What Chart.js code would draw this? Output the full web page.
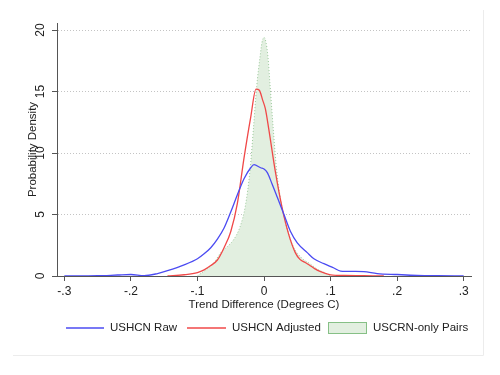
<!DOCTYPE html>
<html>
<head>
<meta charset="utf-8">
<script src="https://cdn.jsdelivr.net/npm/chart.js@4.4.1/dist/chart.umd.min.js"></script>
<style>
  html, body { margin: 0; padding: 0; background: #fff; }
  #wrap { width: 500px; height: 375px; }
</style>
</head>
<body>
<div id="wrap"><canvas id="densityChart" width="500" height="375"></canvas></div>
<script>
// kernel density estimates
const rawX = [-0.30, -0.25, -0.22, -0.20, -0.18, -0.16, -0.145, -0.12, -0.10, -0.09, -0.08, -0.07, -0.06, -0.05, -0.04, -0.03, -0.02, -0.015, -0.005, 0.0, 0.005, 0.012, 0.02, 0.03, 0.04, 0.05, 0.065, 0.075, 0.09, 0.105, 0.115, 0.135, 0.15, 0.17, 0.20, 0.23, 0.26, 0.30];
const rawY = [0, 0.02, 0.08, 0.12, 0.02, 0.2, 0.43, 0.9, 1.4, 1.8, 2.3, 3.0, 3.9, 5.2, 6.6, 7.9, 8.8, 9.05, 8.8, 8.7, 8.4, 7.5, 6.4, 5.0, 3.6, 2.7, 1.9, 1.4, 1.0, 0.65, 0.4, 0.37, 0.35, 0.2, 0.12, 0.05, 0.02, 0];

const adjX = [-0.145, -0.12, -0.10, -0.09, -0.08, -0.07, -0.06, -0.05, -0.04, -0.03, -0.02, -0.012, -0.007, -0.002, 0.002, 0.007, 0.017, 0.027, 0.037, 0.047, 0.054, 0.062, 0.068, 0.076, 0.085, 0.10, 0.12, 0.15, 0.18];
const adjY = [0, 0.1, 0.28, 0.5, 0.85, 1.3, 2.3, 3.6, 5.9, 9.6, 12.9, 15.2, 15.1, 14.3, 13.6, 12.0, 8.5, 5.6, 3.4, 1.9, 1.35, 1.1, 0.9, 0.6, 0.35, 0.1, 0.04, 0.03, 0];

const crnX = [-0.10, -0.095, -0.085, -0.075, -0.065, -0.055, -0.045, -0.036, -0.028, -0.021, -0.016, -0.011, -0.006, -0.003, 0.0, 0.003, 0.006, 0.009, 0.014, 0.019, 0.027, 0.034, 0.044, 0.056, 0.069, 0.082, 0.094, 0.10];
const crnY = [0, 0.2, 0.6, 1.1, 1.9, 2.4, 3.0, 4.0, 5.7, 8.6, 11.9, 15.4, 17.8, 19.0, 19.4, 19.0, 17.8, 15.6, 11.9, 8.6, 5.6, 4.0, 2.4, 1.5, 1.0, 0.5, 0.2, 0];

const xTicks = [-0.3, -0.2, -0.1, 0, 0.1, 0.2, 0.3];
const yTicks = [0, 5, 10, 15, 20];
const seriesLabels = ['USHCN Raw', 'USHCN Adjusted', 'USCRN-only Pairs'];

const FONT = '"Liberation Sans", Arial, Helvetica, sans-serif';
const TEXT = '#222';
const BLUE = '#4b4bf2';
const RED = '#f04848';
const GREEN_FILL = '#e2efe0';
const GREEN_LINE = '#9cc99c';

function toPoints(xs, ys) {
    return xs.map((x, i) => ({ x: x, y: ys[i] }));
}

function fmtTick(v) {
    if (Math.abs(v) < 1e-9) return '0';
    return (v < 0 ? '-' : '') + '.' + Math.round(Math.abs(v) * 10);
}

const extras = {
    id: 'extras',
    beforeDraw(chart) {
        const ctx = chart.ctx;
        ctx.save();
        ctx.strokeStyle = '#ececec';
        ctx.lineWidth = 1;
        ctx.beginPath();
        ctx.moveTo(483.5, 10);
        ctx.lineTo(483.5, 355.5);
        ctx.lineTo(13, 355.5);
        ctx.stroke();
        ctx.restore();
    },
    afterDraw(chart) {
        const ctx = chart.ctx;
        const ys = chart.scales.y;
        ctx.save();
        ctx.fillStyle = TEXT;
        ctx.font = '12px ' + FONT;
        ctx.textAlign = 'center';
        ctx.textBaseline = 'middle';
        yTicks.forEach(v => {
            ctx.save();
            ctx.translate(41, ys.getPixelForValue(v));
            ctx.rotate(-Math.PI / 2);
            ctx.fillText(String(v), 0, 0);
            ctx.restore();
        });

        // legend
        const ly = 328;
        ctx.font = '11.5px ' + FONT;
        ctx.textAlign = 'left';
        ctx.lineWidth = 1.3;
        ctx.strokeStyle = BLUE;
        ctx.beginPath(); ctx.moveTo(66, ly); ctx.lineTo(104, ly); ctx.stroke();
        ctx.fillText(seriesLabels[0], 110, ly);
        ctx.strokeStyle = RED;
        ctx.beginPath(); ctx.moveTo(187, ly); ctx.lineTo(226, ly); ctx.stroke();
        ctx.fillText(seriesLabels[1], 232, ly);
        ctx.fillStyle = GREEN_FILL;
        ctx.fillRect(328, 322, 39, 12);
        ctx.strokeStyle = '#86c086';
        ctx.lineWidth = 1;
        ctx.strokeRect(328.5, 322.5, 38, 11);
        ctx.fillStyle = TEXT;
        ctx.fillText(seriesLabels[2], 373, ly);
        ctx.restore();
    }
};

new Chart(document.getElementById('densityChart'), {
    type: 'line',
    data: {
        datasets: [
            { label: seriesLabels[0], data: toPoints(rawX, rawY), borderColor: BLUE, borderWidth: 1.3, pointRadius: 0, fill: false, cubicInterpolationMode: 'monotone' },
            { label: seriesLabels[1], data: toPoints(adjX, adjY), borderColor: RED, borderWidth: 1.3, pointRadius: 0, fill: false, cubicInterpolationMode: 'monotone' },
            { label: seriesLabels[2], data: toPoints(crnX, crnY), borderColor: GREEN_LINE, backgroundColor: GREEN_FILL, borderWidth: 1, borderDash: [1, 2], pointRadius: 0, fill: 'origin', cubicInterpolationMode: 'monotone' }
        ]
    },
    options: {
        responsive: false,
        animation: false,
        layout: { padding: { left: 0, top: 23, right: 29, bottom: 63 } },
        plugins: { legend: { display: false }, tooltip: { enabled: false } },
        scales: {
            x: {
                type: 'linear',
                min: -0.311,
                max: 0.311,
                afterBuildTicks: s => { s.ticks = xTicks.map(v => ({ value: v })); },
                afterFit: s => { s.height = 36; },
                ticks: { callback: v => fmtTick(v), color: TEXT, font: { family: FONT, size: 12 }, padding: 3, maxRotation: 0 },
                grid: { drawOnChartArea: false, drawTicks: true, tickLength: 5, tickColor: '#555', color: '#555' },
                border: { color: '#555', width: 1 },
                title: { display: true, text: 'Trend Difference (Degrees C)', color: TEXT, font: { family: FONT, size: 11.5 }, padding: { top: 0, bottom: 0 } }
            },
            y: {
                min: 0,
                max: 20.57,
                afterBuildTicks: s => { s.ticks = yTicks.map(v => ({ value: v })); },
                afterFit: s => { s.width = 57; },
                ticks: { display: false },
                grid: { drawTicks: true, tickLength: 5, tickColor: '#555', color: ctx => (ctx.tick && ctx.tick.value === 0) ? 'rgba(0,0,0,0)' : '#c4c4c4' },
                border: { color: '#555', width: 1, dash: [1, 2] },
                title: { display: true, text: 'Probability Density', color: TEXT, font: { family: FONT, size: 11.5 }, padding: { top: 26, bottom: 0 } }
            }
        }
    },
    plugins: [extras]
});
</script>
</body>
</html>
